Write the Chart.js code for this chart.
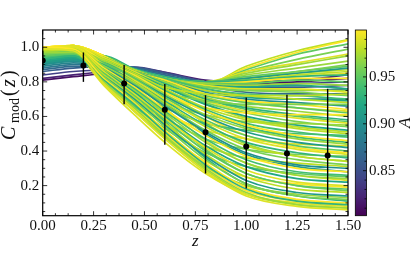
<!DOCTYPE html>
<html>
<head>
<meta charset="utf-8">
<script src="https://cdn.jsdelivr.net/npm/chart.js@4.4.0/dist/chart.umd.min.js"></script>
<style>
  html, body { margin: 0; padding: 0; background: #fff; }
  #wrap { width: 415px; height: 253px; }
</style>
</head>
<body>
<div id="wrap"><canvas id="chart" width="415" height="253"></canvas></div>
<script>
// model curves C_mod(z), sampled at zGrid, one row per model, coloured by A
const zGrid = [0, 0.15, 0.3, 0.45, 0.6, 0.8, 1.0, 1.25, 1.5];

const curveA = [
  0.99, 0.97, 0.93, 1.00, 0.96, 0.91, 0.98, 0.95, 0.99, 0.92,
  0.97, 0.94, 1.00, 0.90, 0.96, 0.98, 0.93, 0.99, 0.95, 0.91,
  0.97, 1.00, 0.94, 0.98,
  0.99, 0.97, 1.00, 0.95, 0.98, 0.96, 0.99, 0.94, 0.97, 1.00, 0.96, 0.98,
  0.92, 0.96, 0.99, 0.93, 0.97, 0.95,
  1.00, 0.90, 0.98, 0.94, 0.96, 0.99, 0.92, 0.97, 0.95, 1.00,
  0.93, 0.98, 0.91, 0.96, 0.97, 0.99, 0.95, 1.00, 0.98,
  0.93, 0.96, 0.99, 0.91, 0.97, 1.00, 0.94, 0.98, 0.95, 0.99, 0.92, 0.97,
  0.98, 0.95, 0.99, 0.97, 0.96,
  0.98, 1.00,
  0.89, 0.87, 0.88, 0.86, 0.84, 0.82, 0.81
];

const curveC = [
  [0.99, 0.98, 0.79, 0.63, 0.47, 0.28, 0.14, 0.08, 0.06],
  [0.97, 0.97, 0.80, 0.65, 0.49, 0.30, 0.16, 0.09, 0.07],
  [0.93, 0.95, 0.81, 0.67, 0.51, 0.32, 0.18, 0.11, 0.09],
  [1.00, 0.99, 0.82, 0.68, 0.52, 0.33, 0.19, 0.12, 0.10],
  [0.96, 0.97, 0.83, 0.69, 0.54, 0.35, 0.21, 0.14, 0.12],
  [0.91, 0.93, 0.83, 0.70, 0.55, 0.37, 0.23, 0.16, 0.14],
  [0.98, 0.99, 0.84, 0.71, 0.56, 0.38, 0.25, 0.18, 0.16],
  [0.95, 0.96, 0.85, 0.72, 0.58, 0.40, 0.27, 0.20, 0.18],
  [0.99, 1.00, 0.86, 0.73, 0.59, 0.42, 0.29, 0.22, 0.20],
  [0.92, 0.94, 0.86, 0.74, 0.60, 0.43, 0.31, 0.24, 0.22],
  [0.97, 0.99, 0.87, 0.75, 0.62, 0.45, 0.33, 0.26, 0.24],
  [0.94, 0.96, 0.87, 0.76, 0.63, 0.47, 0.35, 0.28, 0.26],
  [1.00, 1.00, 0.88, 0.77, 0.64, 0.49, 0.37, 0.30, 0.28],
  [0.90, 0.92, 0.88, 0.78, 0.66, 0.51, 0.39, 0.32, 0.30],
  [0.96, 0.98, 0.89, 0.79, 0.67, 0.52, 0.41, 0.35, 0.32],
  [0.98, 1.00, 0.89, 0.80, 0.68, 0.54, 0.43, 0.37, 0.34],
  [0.93, 0.95, 0.90, 0.80, 0.69, 0.55, 0.45, 0.39, 0.36],
  [0.99, 1.01, 0.90, 0.81, 0.70, 0.57, 0.47, 0.41, 0.38],
  [0.95, 0.97, 0.91, 0.82, 0.71, 0.58, 0.49, 0.43, 0.40],
  [0.91, 0.93, 0.91, 0.82, 0.72, 0.60, 0.51, 0.45, 0.42],
  [0.97, 0.99, 0.92, 0.83, 0.73, 0.61, 0.53, 0.47, 0.44],
  [1.00, 1.01, 0.92, 0.84, 0.74, 0.63, 0.55, 0.49, 0.46],
  [0.94, 0.96, 0.92, 0.84, 0.75, 0.64, 0.56, 0.51, 0.48],
  [0.98, 1.00, 0.93, 0.85, 0.76, 0.65, 0.58, 0.53, 0.50],
  [0.99, 0.97, 0.78, 0.61, 0.45, 0.27, 0.15, 0.10, 0.08],
  [0.97, 0.96, 0.79, 0.63, 0.48, 0.31, 0.20, 0.15, 0.13],
  [1.00, 0.98, 0.80, 0.64, 0.50, 0.34, 0.25, 0.21, 0.19],
  [0.95, 0.95, 0.81, 0.66, 0.53, 0.39, 0.31, 0.27, 0.25],
  [0.98, 0.98, 0.82, 0.68, 0.56, 0.43, 0.36, 0.33, 0.31],
  [0.96, 0.97, 0.83, 0.70, 0.59, 0.47, 0.41, 0.38, 0.37],
  [0.99, 0.99, 0.84, 0.72, 0.62, 0.52, 0.47, 0.44, 0.43],
  [0.94, 0.95, 0.85, 0.74, 0.65, 0.56, 0.52, 0.50, 0.49],
  [0.97, 0.98, 0.87, 0.77, 0.68, 0.61, 0.57, 0.56, 0.55],
  [1.00, 1.00, 0.88, 0.79, 0.71, 0.65, 0.62, 0.61, 0.61],
  [0.96, 0.97, 0.89, 0.81, 0.74, 0.69, 0.67, 0.67, 0.67],
  [0.98, 0.99, 0.91, 0.83, 0.77, 0.73, 0.72, 0.72, 0.73],
  [0.92, 0.94, 0.92, 0.85, 0.77, 0.67, 0.60, 0.55, 0.52],
  [0.96, 0.98, 0.93, 0.85, 0.78, 0.68, 0.62, 0.57, 0.54],
  [0.99, 1.01, 0.94, 0.86, 0.78, 0.69, 0.63, 0.59, 0.56],
  [0.93, 0.95, 0.93, 0.86, 0.79, 0.70, 0.65, 0.61, 0.58],
  [0.97, 0.99, 0.94, 0.86, 0.80, 0.71, 0.66, 0.63, 0.60],
  [0.95, 0.97, 0.94, 0.86, 0.80, 0.72, 0.68, 0.65, 0.62],
  [1.00, 1.01, 0.95, 0.86, 0.81, 0.73, 0.69, 0.67, 0.64],
  [0.90, 0.92, 0.91, 0.86, 0.81, 0.74, 0.70, 0.68, 0.66],
  [0.98, 1.00, 0.94, 0.87, 0.81, 0.75, 0.72, 0.70, 0.68],
  [0.94, 0.96, 0.94, 0.87, 0.82, 0.76, 0.73, 0.72, 0.70],
  [0.96, 0.98, 0.94, 0.87, 0.82, 0.77, 0.75, 0.74, 0.72],
  [0.99, 1.01, 0.94, 0.87, 0.82, 0.78, 0.76, 0.76, 0.74],
  [0.92, 0.94, 0.93, 0.87, 0.82, 0.78, 0.77, 0.78, 0.76],
  [0.97, 0.99, 0.94, 0.87, 0.82, 0.79, 0.78, 0.79, 0.78],
  [0.95, 0.97, 0.95, 0.87, 0.82, 0.79, 0.79, 0.81, 0.80],
  [1.00, 1.01, 0.95, 0.87, 0.82, 0.79, 0.80, 0.82, 0.82],
  [0.93, 0.95, 0.95, 0.875, 0.83, 0.80, 0.81, 0.83, 0.84],
  [0.98, 1.00, 0.95, 0.87, 0.82, 0.80, 0.81, 0.84, 0.86],
  [0.91, 0.93, 0.94, 0.875, 0.83, 0.80, 0.82, 0.85, 0.88],
  [0.96, 0.98, 0.95, 0.87, 0.82, 0.80, 0.82, 0.86, 0.90],
  [0.97, 0.99, 0.95, 0.87, 0.82, 0.80, 0.85, 0.90, 0.95],
  [0.99, 1.00, 0.95, 0.87, 0.82, 0.80, 0.86, 0.91, 0.96],
  [0.95, 0.97, 0.95, 0.87, 0.82, 0.79, 0.87, 0.96, 1.02],
  [1.00, 1.01, 0.95, 0.87, 0.82, 0.79, 0.88, 0.97, 1.04],
  [0.98, 1.00, 0.95, 0.87, 0.82, 0.79, 0.89, 0.98, 1.045],
  [0.93, 0.95, 0.86, 0.73, 0.57, 0.36, 0.21, 0.14, 0.11],
  [0.96, 0.98, 0.88, 0.76, 0.61, 0.41, 0.27, 0.20, 0.17],
  [0.99, 1.01, 0.90, 0.79, 0.65, 0.46, 0.33, 0.26, 0.23],
  [0.91, 0.93, 0.89, 0.80, 0.68, 0.50, 0.38, 0.31, 0.28],
  [0.97, 0.99, 0.92, 0.83, 0.72, 0.56, 0.44, 0.37, 0.34],
  [1.00, 1.01, 0.93, 0.85, 0.75, 0.60, 0.49, 0.42, 0.39],
  [0.94, 0.96, 0.93, 0.85, 0.76, 0.63, 0.54, 0.48, 0.45],
  [0.98, 1.00, 0.94, 0.86, 0.78, 0.67, 0.59, 0.54, 0.51],
  [0.95, 0.97, 0.94, 0.86, 0.79, 0.70, 0.64, 0.60, 0.57],
  [0.99, 1.01, 0.95, 0.87, 0.81, 0.73, 0.68, 0.65, 0.63],
  [0.92, 0.94, 0.93, 0.87, 0.81, 0.75, 0.71, 0.70, 0.69],
  [0.97, 0.99, 0.95, 0.87, 0.82, 0.77, 0.75, 0.75, 0.75],
  [0.98, 1.00, 0.95, 0.87, 0.82, 0.80, 0.82, 0.85, 0.87],
  [0.95, 0.97, 0.95, 0.87, 0.82, 0.80, 0.83, 0.86, 0.89],
  [0.99, 1.01, 0.95, 0.87, 0.82, 0.79, 0.80, 0.83, 0.85],
  [0.97, 0.99, 0.95, 0.87, 0.82, 0.80, 0.84, 0.88, 0.92],
  [0.96, 0.98, 0.95, 0.87, 0.82, 0.79, 0.86, 0.93, 0.99],
  [0.98, 0.98, 0.80, 0.64, 0.48, 0.29, 0.15, 0.09, 0.07],
  [1.00, 1.00, 0.81, 0.66, 0.50, 0.31, 0.17, 0.11, 0.09],
  [0.89, 0.91, 0.90, 0.87, 0.82, 0.76, 0.72, 0.70, 0.70],
  [0.87, 0.89, 0.89, 0.87, 0.84, 0.78, 0.74, 0.73, 0.73],
  [0.88, 0.90, 0.90, 0.88, 0.84, 0.79, 0.76, 0.75, 0.76],
  [0.86, 0.88, 0.89, 0.885, 0.85, 0.80, 0.77, 0.77, 0.78],
  [0.84, 0.86, 0.87, 0.885, 0.855, 0.80, 0.78, 0.79, 0.80],
  [0.82, 0.84, 0.86, 0.88, 0.855, 0.81, 0.80, 0.81, 0.84],
  [0.81, 0.83, 0.85, 0.875, 0.85, 0.80, 0.79, 0.80, 0.82]
];

// measured points with error bars
const obsZ = [0, 0.2, 0.4, 0.6, 0.8, 1.0, 1.2, 1.4];
const obsC = [0.924, 0.895, 0.79, 0.639, 0.509, 0.426, 0.386, 0.374];
const obsLow = [0.87, 0.80, 0.67, 0.436, 0.27, 0.183, 0.143, 0.125];
const obsHigh = [0.98, 0.97, 0.897, 0.787, 0.723, 0.71, 0.725, 0.76];

const xTicks = [0, 0.25, 0.5, 0.75, 1.0, 1.25, 1.5];
const yTicks = [0.2, 0.4, 0.6, 0.8, 1.0];
const cbTicks = [0.85, 0.90, 0.95];
const aMin = 0.802;
const aMax = 1.0;

const viridisStops = [
  [68, 1, 84], [72, 36, 117], [65, 68, 135], [53, 95, 141], [42, 120, 142],
  [33, 145, 140], [34, 168, 132], [68, 191, 112], [122, 209, 81], [189, 223, 38],
  [253, 231, 37]
];

function viridis(t) {
  t = Math.max(0, Math.min(1, t)) * 10;
  const i = Math.min(9, Math.floor(t));
  const f = t - i;
  const a = viridisStops[i], b = viridisStops[i + 1];
  const c = a.map((v, k) => Math.round(v + (b[k] - v) * f));
  return `rgb(${c[0]},${c[1]},${c[2]})`;
}

const serif = "'Liberation Serif', 'DejaVu Serif', serif";
Chart.defaults.font.family = serif;
Chart.defaults.color = '#111';

const datasets = [{
  type: 'scatter',
  data: obsZ.map((z, i) => ({ x: z, y: obsC[i] })),
  pointRadius: 3,
  pointBackgroundColor: '#000',
  pointBorderWidth: 0,
  showLine: false,
  clip: 0
}];

curveC.forEach((vals, k) => {
  datasets.push({
    type: 'line',
    data: zGrid.map((z, i) => ({ x: z, y: vals[i] })),
    borderColor: viridis((curveA[k] - aMin) / (aMax - aMin)),
    borderWidth: 1.7,
    pointRadius: 0,
    cubicInterpolationMode: 'monotone',
    fill: false,
    clip: 0
  });
});

const decor = {
  id: 'decor',
  afterDatasetsDraw(chart) {
    const ctx = chart.ctx, x = chart.scales.x, y = chart.scales.y;
    ctx.save();
    ctx.strokeStyle = '#000';
    ctx.lineWidth = 1.4;
    obsZ.forEach((z, i) => {
      const px = x.getPixelForValue(z);
      ctx.beginPath();
      ctx.moveTo(px, y.getPixelForValue(obsLow[i]));
      ctx.lineTo(px, y.getPixelForValue(obsHigh[i]));
      ctx.stroke();
    });
    ctx.restore();
  },
  afterDraw(chart) {
    const ctx = chart.ctx, a = chart.chartArea;
    const x = chart.scales.x, y = chart.scales.y, cb = chart.scales.cb;
    ctx.save();

    // ticks pointing inwards on all four sides
    ctx.strokeStyle = '#000';
    ctx.lineWidth = 0.8;
    const tick = (x1, y1, x2, y2) => { ctx.beginPath(); ctx.moveTo(x1, y1); ctx.lineTo(x2, y2); ctx.stroke(); };
    for (let v = 0; v <= 1.5001; v += 0.0625) {
      const major = Math.abs(v / 0.25 - Math.round(v / 0.25)) < 1e-6;
      const len = major ? 4.5 : 2.5;
      const px = x.getPixelForValue(v);
      tick(px, a.bottom, px, a.bottom - len);
      tick(px, a.top, px, a.top + len);
    }
    for (let v = 0.05; v <= 1.1; v += 0.05) {
      const major = Math.abs(v / 0.2 - Math.round(v / 0.2)) < 1e-6;
      const len = major ? 4.5 : 2.5;
      const py = y.getPixelForValue(v);
      tick(a.left, py, a.left + len, py);
      tick(a.right, py, a.right - len, py);
    }

    // frame
    ctx.lineWidth = 1.2;
    ctx.strokeRect(a.left, a.top, a.right - a.left, a.bottom - a.top);

    // colour bar
    const bx0 = cb.left + 7.3, bx1 = cb.left + 18.5;
    const g = ctx.createLinearGradient(0, cb.bottom, 0, cb.top);
    viridisStops.forEach((c, i) => g.addColorStop(i / 10, `rgb(${c[0]},${c[1]},${c[2]})`));
    ctx.fillStyle = g;
    ctx.fillRect(bx0, cb.top, bx1 - bx0, cb.bottom - cb.top);
    ctx.lineWidth = 0.8;
    for (let v = 0.81; v < aMax; v += 0.01) {
      const major = Math.abs(v / 0.05 - Math.round(v / 0.05)) < 1e-6;
      const py = cb.getPixelForValue(v);
      tick(bx1, py, bx1 - (major ? 3.5 : 2), py);
    }
    ctx.strokeRect(bx0, cb.top, bx1 - bx0, cb.bottom - cb.top);

    ctx.fillStyle = '#111';
    ctx.textBaseline = 'alphabetic';

    // x axis label
    ctx.font = `italic 17px ${serif}`;
    ctx.textAlign = 'center';
    ctx.fillText('z', (a.left + a.right) / 2, 245.5);

    // y axis label C_mod(z)
    ctx.save();
    ctx.translate(15, 140);
    ctx.rotate(-Math.PI / 2);
    ctx.textAlign = 'left';
    ctx.font = `italic 20px ${serif}`;
    ctx.fillText('C', 0, 0);
    ctx.font = `14px ${serif}`;
    ctx.fillText('mod', 17, 3.5);
    ctx.font = `20px ${serif}`;
    ctx.fillText('(', 44, 0);
    ctx.font = `italic 20px ${serif}`;
    ctx.fillText('z', 53, 0);
    ctx.font = `20px ${serif}`;
    ctx.fillText(')', 63, 0);
    ctx.restore();

    // colour bar label
    ctx.save();
    ctx.translate(410, (cb.top + cb.bottom) / 2);
    ctx.rotate(-Math.PI / 2);
    ctx.textAlign = 'center';
    ctx.font = `italic 17px ${serif}`;
    ctx.fillText('A', 0, 0);
    ctx.restore();

    ctx.restore();
  }
};

new Chart(document.getElementById('chart'), {
  type: 'line',
  data: { datasets: datasets },
  options: {
    responsive: false,
    animation: false,
    devicePixelRatio: 1,
    layout: { padding: { top: 2.7, left: 0, right: 0, bottom: 0 } },
    plugins: { legend: { display: false }, tooltip: { enabled: false } },
    scales: {
      x: {
        type: 'linear', position: 'bottom', min: 0, max: 1.5,
        grid: { display: false, drawTicks: false }, border: { display: false },
        afterBuildTicks: s => { s.ticks = xTicks.map(v => ({ value: v })); },
        afterFit: s => { s.height = 37.3; },
        ticks: { font: { size: 15 }, padding: 1.5, maxRotation: 0, autoSkip: false,
          callback: v => v.toFixed(2) }
      },
      y: {
        type: 'linear', position: 'left', min: 0.026, max: 1.10,
        grid: { display: false, drawTicks: false }, border: { display: false },
        afterBuildTicks: s => { s.ticks = yTicks.map(v => ({ value: v })); },
        afterFit: s => { s.width = 42.7; },
        ticks: { font: { size: 15 }, padding: 3.5, autoSkip: false,
          callback: v => v.toFixed(1) }
      },
      cb: {
        type: 'linear', position: 'right', min: aMin, max: aMax,
        grid: { display: false, drawTicks: false }, border: { display: false },
        afterBuildTicks: s => { s.ticks = cbTicks.map(v => ({ value: v })); },
        afterFit: s => { s.width = 67; },
        ticks: { font: { size: 15 }, padding: 21, autoSkip: false,
          callback: v => v.toFixed(2) }
      }
    }
  },
  plugins: [decor]
});
</script>
</body>
</html>
